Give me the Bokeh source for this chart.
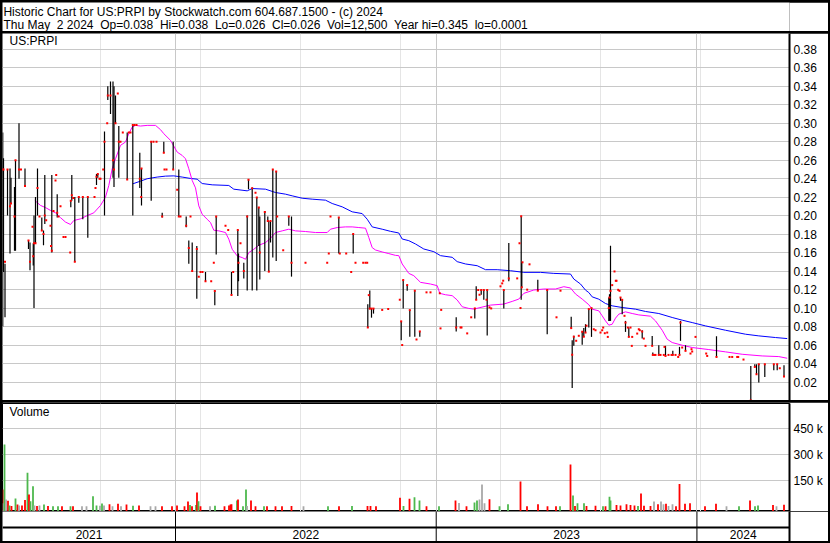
import datetime as dt
from bokeh.plotting import figure
from bokeh.models import (Range1d, FixedTicker, Span, Label, LinearAxis, Grid,
                          PrintfTickFormatter)
from bokeh.layouts import column
from bokeh.embed import file_html
from bokeh.resources import INLINE
from bokeh.core.properties import value

# ---------------- data ----------------
START = dt.date(2021, 5, 1)          # x values are weeks since this date
year_starts = ["2022-01-01", "2023-01-01", "2024-01-01"]
year_labels = ["2021", "2022", "2023", "2024"]
last_date = "2024-05-02"

header_1 = "Historic Chart for US:PRPI by Stockwatch.com 604.687.1500 - (c) 2024"
header_2 = "Thu May  2 2024  Op=0.038  Hi=0.038  Lo=0.026  Cl=0.026  Vol=12,500  Year hi=0.345  lo=0.0001"
symbol = "US:PRPI"

price_ticks = [0.02, 0.04, 0.06, 0.08, 0.10, 0.12, 0.14, 0.16, 0.18, 0.20,
               0.22, 0.24, 0.26, 0.28, 0.30, 0.32, 0.34, 0.36, 0.38]
vol_ticks = [150000, 300000, 450000]
vol_tick_labels = ["150 k", "300 k", "450 k"]

# (week, high, low, close)
bars_2021 = [
    (0.45, .29, .08, .25), (0.6, .262, .139, .25), (0.9, .148, .09, .15), (1.4, .25, .20, .25),
    (1.9, .251, .159, .21), (2.1, .241, .213, .213), (2.8, .231, .162, .199), (3.0, .26, .162, .26),
    (3.7, .30, .24, .25), (4.1, .25, .25, .25), (4.9, .251, .231, .232), (5.6, .173, .164, .173),
    (5.9, .171, .141, .15), (6.4, .188, .188, .188), (6.55, .17, .146, .156), (6.7, .20, .10, .17),
    (7.0, .22, .17, .17), (7.4, .251, .20, .23), (7.8, .199, .199, .199), (8.26, .198, .184, .184),
    (8.6, .184, .168, .18), (8.86, .244, .191, .20), (9.14, .195, .195, .195), (10.0, .189, .189, .189),
    (10.1, .167, .167, .167), (10.26, .244, .16, .162), (10.6, .205, .205, .205), (11.0, .238, .238, .238),
    (11.14, .244, .244, .244), (11.34, .223, .198, .203), (11.6, .199, .199, .199), (12.0, .21, .21, .21),
    (12.6, .177, .177, .177), (13.0, .177, .177, .177), (13.94, .16, .16, .16), (14.06, .216, .209, .216),
    (14.26, .244, .216, .222), (14.54, .219, .219, .219), (14.86, .22, .15, .15), (15.66, .22, .214, .22),
    (16.46, .22, .196, .22), (17.46, .22, .176, .22), (18.8, .22, .22, .22), (19.0, .23, .23, .23),
    (19.2, .245, .233, .242), (19.46, .245, .241, .245), (19.8, .24, .24, .24), (20.0, .24, .24, .24),
    (20.54, .25, .25, .25), (20.8, .291, .20, .28), (21.34, .30, .30, .30), (21.46, .34, .325, .33),
    (22.0, .345, .31, .33), (22.5, .345, .241, .26), (22.7, .34, .231, .25), (23.0, .33, .30, .30),
    (23.46, .332, .332, .332), (23.66, .297, .241, .28), (24.0, .28, .28, .28), (24.46, .29, .29, .29),
    (25.34, .29, .239, .239), (25.66, .29, .29, .29), (26.0, .29, .29, .29), (26.46, .298, .20, .298),
    (26.8, .298, .298, .298), (27.2, .298, .298, .298), (27.86, .268, .23, .24), (28.14, .22, .22, .22),
    (28.2, .251, .211, .251), (30.14, .28, .216, .28), (30.6, .28, .28, .28), (31.2, .28, .28, .28),
    (32.34, .203, .198, .199), (32.66, .28, .268, .268), (32.8, .25, .25, .25), (33.2, .25, .25, .25),
    (34.54, .28, .25, .25),
]
bars_2022 = [
    (35.34, .228, .228, .228), (35.66, .25, .199, .199), (36.0, .199, .199, .199), (37.14, .199, .1875, .189),
    (37.66, .173, .148, .165), (38.0, .199, .199, .199), (38.34, .171, .141, .14), (39.26, .167, .11, .164),
    (39.66, .134, .134, .134), (40.0, .139, .139, .139), (40.4, .139, .139, .139), (41.0, .139, .129, .129),
    (42.14, .129, .129, .129), (42.66, .149, .149, .149), (42.86, .119, .103, .1185), (43.14, .199, .158, .199),
    (45.0, .189, .189, .189), (45.54, .1845, .1845, .1845), (46.2, .139, .114, .114), (46.54, .139, .139, .139),
    (47.46, .1845, .113, .1845), (47.6, .159, .129, .149), (48.0, .17, .17, .17), (48.66, .149, .132, .14),
    (49.34, .20, .119, .199), (49.6, .2394, .2286, .2387), (50.34, .2304, .119, .2297), (51.0, .2246, .2246, .2246),
    (51.26, .2196, .119, .2196), (51.66, .2087, .167, .2087), (51.86, .199, .131, .16), (52.86, .205, .14, .204),
    (53.46, .199, .1936, .1943), (53.66, .1943, .1394, .1394), (54.0, .1943, .1708, .1943), (54.46, .25, .1546, .25),
    (55.14, .2477, .151, .2477), (55.34, .199, .199, .199), (56.54, .1625, .1625, .1625), (57.66, .199, .189, .199),
    (58.2, .199, .134, .149), (61.0, .149, .149, .149), (65.34, .149, .149, .149), (65.66, .159, .159, .159),
    (66.0, .199, .199, .199), (67.66, .198, .159, .198), (67.86, .159, .159, .159), (69.14, .159, .159, .159),
    (70.14, .139, .139, .139), (70.54, .18, .159, .18), (71.0, .149, .149, .149), (72.54, .149, .149, .149),
    (73.0, .149, .149, .149), (73.34, .149, .149, .149), (73.46, .104, .079, .079), (73.66, .114, .114, .114),
    (73.86, .119, .0986, .0994), (74.2, .0994, .0896, .0994), (74.6, .0994, .094, .0994), (76.34, .098, .098, .098),
    (77.54, .099, .099, .099), (79.86, .109, .109, .109), (80.14, .0856, .0653, .0856), (80.34, .06, .06, .06),
    (80.54, .1303, .0996, .1303), (81.34, .1249, .1188, .1249), (81.86, .0978, .069, .0978), (82.86, .1188, .069, .1188),
    (83.2, .066, .066, .066), (83.86, .0747, .069, .0747), (85.2, .117, .117, .117), (86.0, .117, .117, .117),
]
bars_2023 = [
    (87.86, .116, .116, .116), (88.0, .078, .078, .078), (88.14, .098, .098, .098), (91.14, .09, .0747, .079),
    (92.0, .079, .079, .079), (92.2, .079, .079, .079), (93.34, .0726, .0726, .0726), (94.14, .09, .09, .09),
    (94.86, .0996, .0888, .0996), (95.14, .1235, .109, .109), (95.54, .1195, .1195, .1195), (95.8, .1144, .1144, .1144),
    (96.14, .1195, .1144, .1195), (96.66, .1195, .109, .1195), (97.2, .109, .109, .109), (97.34, .1195, .0704, .1195),
    (97.8, .1007, .1007, .1007), (98.14, .0996, .0996, .0996), (100.0, .1235, .1235, .1235), (100.34, .1267, .1267, .1267),
    (100.54, .1296, .1296, .1296), (100.66, .1195, .0996, .1195), (101.66, .1704, .1289, .1321), (103.34, .1321, .1321, .1321),
    (103.8, .17, .17, .17), (104.0, .10, .10, .10), (104.14, .1993, .109, .1993), (104.26, .1495, .1224, .1224),
    (104.4, .1495, .1495, .1495), (105.34, .1199, .1199, .1199), (105.8, .1473, .1473, .1473), (107.46, .1307, .1188, .1188),
    (109.34, .1195, .0718, .1195), (111.2, .09, .09, .09), (112.0, .1188, .1188, .1188), (114.14, .0906, .0783, .0783),
    (114.34, .0653, .0134, .0495), (114.66, .07, .0592, .069), (115.14, .0646, .0646, .0646), (115.66, .07, .07, .07),
    (116.34, .0744, .0603, .0744), (116.66, .0783, .069, .069), (117.0, .0825, .0735, .0735), (117.2, .0809, .0809, .0809),
    (117.66, .0989, .0791, .0989), (118.2, .0999, .0688, .0999), (118.66, .0771, .0771, .0771), (119.0, .076, .076, .076),
    (120.0, .0735, .0735, .0735), (120.34, .076, .076, .076), (120.54, .0789, .0789, .0789), (120.86, .0728, .0728, .0728),
    (121.34, .0735, .0735, .0735), (121.46, .0688, .0688, .0688), (121.66, .1114, .0861, .10), (121.8, .115, .0861, .1114),
    (122.0, .1674, .0861, .1186), (122.34, .1248, .1248, .1248), (122.8, .1396, .1396, .1396), (123.06, .1295, .1295, .1295),
    (123.2, .1295, .1295, .1295), (123.54, .1197, .1197, .1197), (123.8, .1186, .1186, .1186), (124.0, .1114, .1078, .1114),
    (124.34, .1096, .0934, .1089), (124.8, .0916, .0916, .0916), (125.0, .0861, .0742, .0843), (125.46, .0789, .0789, .0789),
    (125.66, .0789, .0688, .0688), (126.0, .0789, .0789, .0789), (126.26, .0591, .0591, .0591), (126.34, .0688, .0688, .0688),
    (127.34, .0724, .0724, .0724), (127.66, .0771, .0771, .0771), (127.86, .076, .076, .076), (128.34, .076, .067, .0746),
    (128.66, .067, .067, .067), (129.0, .0591, .0591, .0591), (130.34, .0699, .0591, .0591), (130.46, .0518, .0493, .0493),
    (130.74, .0493, .0493, .0493), (131.0, .0493, .0493, .0493), (131.66, .0598, .0493, .0493), (132.0, .0493, .0493, .0493),
    (132.66, .0493, .0493, .0493), (132.8, .058, .058, .058), (133.0, .0591, .0482, .0482), (133.6, .0493, .0493, .0493),
    (134.2, .0493, .0493, .0493), (134.46, .0537, .0493, .0493), (135.0, .0493, .0493, .0493), (135.54, .0471, .0471, .0471),
    (135.8, .058, .0493, .0493), (136.0, .0861, .0645, .0843), (136.34, .0573, .0573, .0573), (137.0, .0598, .0537, .0537),
    (138.0, .0508, .0508, .0508), (138.2, .0555, .0555, .0555), (138.34, .053, .053, .053), (139.0, .0688, .0688, .0688),
]
bars_2024 = [
    (141.14, .0508, .0508, .0508), (141.34, .0482, .0482, .0482), (143.2, .0695, .0471, .0471), (145.8, .0471, .0471, .0471),
    (146.34, .0471, .0471, .0471), (147.34, .0471, .0471, .0471), (147.54, .0471, .0471, .0471), (148.6, .0443, .0443, .0443),
    (150.06, .0374, .0001, .0001), (150.86, .0392, .0363, .0363), (151.2, .0392, .0284, .0284), (151.66, .0392, .0194, .0392),
    (152.86, .0392, .0255, .0392), (154.66, .0392, .0327, .0392), (155.34, .0392, .0327, .0392), (155.86, .0349, .0349, .0349),
    (156.7, .038, .026, .026),
]

# (week, volume in thousands, direction: g=up, r=down, n=unchanged)
vol_2021 = [
    (0.45, 100, "r"), (0.6, 20, "n"), (0.8, 359, "g"), (1.1, 42, "n"), (1.5, 35, "r"), (1.8, 8, "g"), (2.2, 5, "r"),
    (3.0, 48, "g"), (3.4, 13, "r"), (3.7, 8, "n"), (4.3, 8, "r"), (4.9, 40, "r"), (5.4, 196, "g"), (5.7, 71, "r"),
    (6.0, 32, "g"), (6.5, 119, "g"), (6.8, 8, "n"), (7.3, 5, "r"), (7.8, 8, "n"), (8.7, 13, "g"), (9.5, 5, "r"),
    (10.5, 3, "g"), (11.5, 3, "g"), (12.3, 3, "r"), (14.0, 4, "g"), (14.5, 4, "r"), (16.3, 4, "n"), (17.2, 4, "n"),
    (18.5, 61, "g"), (19.2, 8, "g"), (19.9, 6, "n"), (20.3, 19, "g"), (20.7, 8, "n"), (21.8, 15, "r"), (22.4, 4, "n"),
    (23.5, 17, "r"), (24.1, 4, "n"), (25.2, 13, "r"), (26.5, 6, "g"), (27.7, 8, "r"), (30.0, 3, "n"), (31.0, 3, "n"),
    (32.3, 3, "r"), (34.3, 4, "r"),
]
vol_2022 = [
    (35.3, 8, "r"), (36.8, 3, "r"), (37.5, 30, "r"), (37.9, 10, "g"), (38.3, 4, "r"), (39.1, 10, "g"), (39.3, 82, "r"),
    (39.6, 32, "g"), (40.0, 4, "r"), (41.9, 4, "n"), (42.9, 6, "g"), (44.8, 4, "r"), (45.7, 8, "r"), (46.0, 13, "r"),
    (46.2, 15, "r"), (47.3, 36, "g"), (47.5, 42, "r"), (48.5, 4, "g"), (49.1, 100, "g"), (49.3, 5, "n"), (50.1, 36, "r"),
    (51.0, 3, "r"), (52.7, 3, "g"), (53.3, 3, "r"), (55.0, 4, "r"), (56.3, 4, "r"), (58.2, 5, "r"), (60.6, 3, "n"),
    (65.5, 3, "g"), (67.7, 4, "r"), (70.3, 5, "g"), (73.4, 5, "r"), (74.0, 5, "r"), (75.1, 4, "r"), (79.9, 52, "r"),
    (80.6, 5, "g"), (81.8, 47, "r"), (82.8, 55, "g"), (83.8, 36, "g"), (85.2, 4, "r"),
]
vol_2023 = [
    (87.7, 3, "g"), (91.0, 36, "r"), (91.7, 22, "n"), (93.2, 4, "r"), (94.8, 25, "g"), (95.3, 36, "g"), (95.8, 42, "n"),
    (96.3, 129, "n"), (96.8, 20, "n"), (97.8, 44, "r"), (99.8, 3, "g"), (101.5, 15, "g"), (104.0, 146, "r"),
    (105.3, 3, "r"), (107.5, 15, "r"), (109.4, 3, "r"), (111.1, 3, "r"), (111.9, 3, "g"), (114.0, 244, "r"),
    (114.5, 65, "g"), (114.9, 5, "r"), (115.4, 20, "g"), (116.7, 20, "g"), (117.2, 5, "r"), (119.0, 6, "r"),
    (120.5, 3, "g"), (121.0, 3, "r"), (121.8, 58, "g"), (122.0, 36, "g"), (123.2, 10, "r"), (124.0, 8, "r"),
    (125.2, 15, "r"), (126.0, 10, "r"), (126.8, 8, "r"), (127.5, 5, "g"), (128.1, 77, "r"), (128.7, 6, "r"),
    (130.0, 5, "r"), (130.7, 30, "n"), (131.5, 15, "r"), (132.1, 30, "n"), (132.6, 15, "n"), (133.1, 17, "r"),
    (133.6, 5, "n"), (134.4, 15, "n"), (135.1, 3, "r"), (135.8, 132, "r"), (136.9, 17, "r"), (137.9, 20, "r"),
]
vol_2024 = [
    (140.9, 3, "r"), (143.1, 17, "r"), (145.2, 3, "n"), (147.7, 3, "g"), (149.9, 36, "r"), (150.9, 4, "g"),
    (151.5, 8, "g"), (154.5, 10, "r"), (155.2, 3, "n"), (156.7, 12.5, "r"),
]

# moving averages (week, value)
ma_fast = [
    (6.86, .2164), (8.0, .211), (9.0, .2087), (10.0, .2056), (11.0, .203), (12.0, .1978), (13.0, .193), (14.0, .1904),
    (14.66, .1947), (16.0, .1965), (17.34, .20), (18.66, .203), (20.0, .211), (21.0, .22), (21.66, .2326), (22.34, .2507),
    (23.0, .2615), (24.0, .276), (25.0, .2796), (25.66, .2886), (26.34, .2958), (27.0, .2976), (28.0, .2969), (29.34, .2976),
    (31.0, .2976), (32.0, .293), (32.66, .2886), (34.0, .2814), (35.34, .2687), (36.34, .2651), (37.0, .2615), (37.66, .2507),
    (38.34, .238), (39.0, .23), (39.66, .2105), (40.34, .2015), (41.34, .196), (42.0, .1925), (42.66, .1842), (43.66, .1835),
    (45.0, .1817), (45.66, .1745), (46.34, .1636), (47.34, .1564), (48.34, .1546), (49.0, .1528), (49.66, .16), (50.66, .1636),
    (51.66, .1679), (53.0, .1708), (54.0, .1755), (55.0, .1817), (56.34, .1835), (57.66, .1853), (59.0, .1835), (61.0, .1828),
    (63.0, .1817), (65.34, .1817), (66.0, .1853), (67.34, .1871), (69.0, .1878), (70.34, .1878), (71.66, .1871), (73.0, .1864),
    (73.66, .1763), (74.34, .1654), (75.0, .1628), (76.34, .1607), (77.66, .1589), (79.0, .157), (79.66, .1567), (80.34, .1477),
    (81.66, .1375), (82.66, .135), (84.0, .1278), (86.0, .126), (87.34, .1242), (87.86, .1159), (89.0, .1144), (90.34, .1134),
    (91.34, .1087), (92.34, .1014), (93.66, .0996), (94.66, .0989), (98.0, .1032), (100.66, .1043), (102.34, .1072),
    (103.66, .1097), (104.66, .1159), (106.66, .1195), (108.66, .1206), (111.0, .1206), (112.66, .1231), (114.0, .1217),
    (115.0, .1152), (116.34, .1097), (117.66, .1036), (118.34, .0988), (119.66, .097), (120.34, .0916), (121.0, .0861),
    (121.66, .0815), (122.34, .0825), (123.0, .0891), (123.66, .0934), (125.0, .0959), (126.34, .0941), (127.66, .0926),
    (130.0, .0912), (131.0, .0861), (132.34, .076), (133.34, .0663), (134.34, .0627), (136.34, .0598), (138.34, .0573),
    (141.66, .0551), (145.0, .0526), (148.34, .05), (152.34, .0482), (155.66, .0475), (157.34, .0457),
]
ma_slow = [
    (26.46, .2344), (28.0, .2373), (29.34, .2399), (31.34, .2417), (33.0, .2427), (34.66, .243), (36.34, .2417),
    (38.0, .2402), (39.34, .2394), (40.34, .2347), (42.34, .2333), (45.66, .2326), (46.66, .2286), (49.34, .2268),
    (50.34, .2293), (53.0, .2286), (55.0, .225), (57.0, .2232), (58.34, .2214), (60.34, .2188), (62.34, .2178),
    (65.0, .2167), (66.34, .2131), (68.34, .2095), (70.34, .2041), (72.34, .2022), (73.34, .1961), (74.34, .1878),
    (76.34, .1853), (78.0, .183), (79.66, .1812), (80.34, .1747), (81.66, .1729), (83.0, .1693), (84.66, .1639),
    (86.66, .161), (88.0, .1567), (90.34, .1549), (91.34, .1502), (93.0, .1477), (95.34, .1458), (97.0, .1415),
    (99.34, .1415), (102.0, .1404), (104.66, .1386), (108.0, .1386), (110.66, .1375), (114.0, .1368), (114.66, .1314),
    (116.0, .126), (117.0, .1194), (117.66, .1168), (118.34, .1121), (119.66, .1096), (121.0, .1049), (122.34, .1024),
    (124.34, .1006), (127.0, .0988), (129.0, .0963), (131.66, .0941), (134.34, .0898), (136.34, .0869), (138.34, .0843),
    (141.0, .0807), (145.0, .076), (149.0, .0717), (151.66, .0699), (155.0, .0681), (157.34, .067),
]

# ---------------- styling constants ----------------
FONT = "Liberation Sans"
GRID = "#C8C8C8"
UP, DOWN, FLAT = "#4DB84D", "#FF0000", "#A8A8A8"
W = 826
RB = 39


def wk(d):
    return (dt.date.fromisoformat(d) - START).days / 7.0


def keep_spaces(s):
    # keep the double spaces of the original header visible in SVG
    return s.replace("  ", " \u00a0")


bounds = [wk(d) for d in year_starts]
x_lo, x_hi = 0.4, 157.8
edges = [x_lo] + bounds + [x_hi]
centers = [(a + b) / 2 for a, b in zip(edges[:-1], edges[1:])]

bars = bars_2021 + bars_2022 + bars_2023 + bars_2024
bw, bh, bl, bc = [list(c) for c in zip(*bars)]
vols = vol_2021 + vol_2022 + vol_2023 + vol_2024
vw = [r[0] for r in vols]
vv = [r[1] * 1000 for r in vols]
vc = [{"g": UP, "r": DOWN, "n": FLAT}[r[2]] for r in vols]

xr = Range1d(x_lo, x_hi)


def base_fig(height, y_range, **kw):
    f = figure(width=W, height=height, x_range=xr, y_range=y_range,
               output_backend="svg", toolbar_location=None,
               min_border_left=0, min_border_right=RB, min_border_top=0,
               min_border_bottom=0, **kw)
    f.border_fill_color = "white"
    f.background_fill_color = "white"
    return f


def style_axis(ax):
    ax.axis_line_color = "black"
    ax.axis_line_width = 2
    ax.major_tick_out = 0
    ax.major_tick_in = 0
    ax.minor_tick_out = 0
    ax.minor_tick_in = 0
    ax.major_label_text_font = FONT
    ax.major_label_text_font_size = "12px"
    ax.major_label_text_color = "black"
    ax.major_label_standoff = 4


# ---- header ----
HH = 29
hdr = figure(width=W, height=HH, x_range=Range1d(0, W), y_range=Range1d(0, HH),
             output_backend="svg", toolbar_location=None, x_axis_location=None,
             y_axis_location=None, min_border=0)
hdr.outline_line_color = None
hdr.border_fill_color = "white"
hdr.background_fill_color = "white"
hdr.xgrid.visible = False
hdr.ygrid.visible = False
for txt, yy in ((header_1, 19.5), (header_2, 6.5)):
    hdr.add_layout(Label(x=1, y=yy, text=keep_spaces(txt), text_font=FONT, text_font_size="12px",
                         text_color="black", text_baseline="alphabetic"))

# ---- price ----
price = base_fig(367, Range1d(0, 0.397), x_axis_location=None, y_axis_location="right")
price.outline_line_color = None
pax = price.yaxis[0]
pax.ticker = FixedTicker(ticks=price_ticks)
pax.formatter = PrintfTickFormatter(format="%.2f")
style_axis(pax)
price.ygrid.ticker = FixedTicker(ticks=price_ticks)
price.ygrid.grid_line_color = GRID
price.add_layout(Grid(dimension=0, ticker=FixedTicker(ticks=bounds), grid_line_color=GRID))
price.line([r[0] for r in ma_slow], [r[1] for r in ma_slow], line_color="#0000FF", line_width=1)
price.line([r[0] for r in ma_fast], [r[1] for r in ma_fast], line_color="#FF00FF", line_width=1)
price.segment(x0=bw, y0=bl, x1=bw, y1=bh, line_color="black", line_width=1.2)
price.rect(x=bw, y=bc, width=2, height=2, width_units="screen", height_units="screen",
           fill_color="#FF0000", line_color=None)
price.add_layout(Label(x=1.8, y=0.381, text=symbol, text_font=FONT, text_font_size="12px",
                       text_color="black"))

# ---- volume ----
vol = base_fig(109, Range1d(-27000, 596000), x_axis_location=None, y_axis_location="right")
vol.min_border_top = 1
vol.outline_line_color = "black"
vol.outline_line_width = 1
vax = vol.yaxis[0]
vax.ticker = FixedTicker(ticks=vol_ticks)
vax.major_label_overrides = dict(zip(vol_ticks, vol_tick_labels))
style_axis(vax)
vol.ygrid.ticker = FixedTicker(ticks=vol_ticks)
vol.ygrid.grid_line_color = GRID
vol.add_layout(Grid(dimension=0, ticker=FixedTicker(ticks=bounds), grid_line_color=GRID))
vol.vbar(x=vw, top=vv, bottom=-27000, width=0.36, fill_color=vc, line_color=None)
vol.add_layout(Label(x=1.8, y=505000, text="Volume", text_font=FONT, text_font_size="12px",
                     text_color="black"))

# ---- year strip ----
yr = base_fig(30, Range1d(0, 1), x_axis_location=None, y_axis_location=None)
yr.outline_line_color = None
yr.xgrid.visible = False
yr.ygrid.visible = False
for b in bounds:
    yr.add_layout(Span(location=b, dimension="height", line_color="black", line_width=1))
yr.add_layout(Span(location=0.467, dimension="width", line_color="black", line_width=2))
yr.text(x=centers, y=[0.24] * len(centers), text=year_labels, text_font=value(FONT),
        text_font_size=value("12px"), text_align="center", text_baseline="middle",
        text_color="black")
rax = LinearAxis(ticker=FixedTicker(ticks=[]))
style_axis(rax)
rax.major_label_text_font_size = "0px"
yr.add_layout(rax, "right")

layout = column(hdr, price, column(vol, yr, spacing=0), spacing=2,
                styles={"background-color": "black", "padding": "2px"})

open("out.html", "w").write(file_html(layout, INLINE))
